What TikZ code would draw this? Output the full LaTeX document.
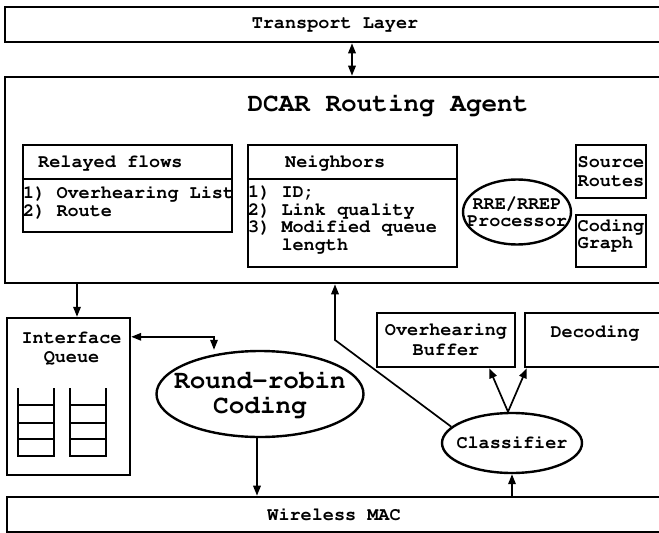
\documentclass[tikz,border=0pt]{standalone}
\usepackage[T1]{fontenc}
\usepackage{tikz}
\usetikzlibrary{shapes.geometric, arrows.meta}

\begin{document}
\begin{tikzpicture}[x=1pt, y=-1pt,
  layer/.style={rectangle, draw, line width=2.6pt, inner sep=0pt,
                font=\fontfamily{pcr}\bfseries\fontsize{18.5pt}{19pt}\selectfont},
  tbl/.style={rectangle, draw, line width=2.4pt, inner sep=0pt, align=left,
              font=\fontfamily{pcr}\bfseries\fontsize{18.5pt}{18.5pt}\selectfont},
  oval/.style={ellipse, draw, line width=2.4pt, inner ysep=0pt, inner xsep=-20pt, align=center,
               font=\fontfamily{pcr}\bfseries\fontsize{18.5pt}{17pt}\selectfont},
  txt/.style={inner sep=0pt, align=left,
              font=\fontfamily{pcr}\bfseries\fontsize{18.5pt}{17.5pt}\selectfont},
  big/.style={font=\fontfamily{pcr}\bfseries\fontsize{26pt}{25pt}\selectfont},
  arr/.style={draw, line width=1.7pt, -{Triangle[length=10pt,width=7.5pt]}},
  dbl/.style={draw, line width=1.7pt, {Triangle[length=10pt,width=7.5pt]}-{Triangle[length=10pt,width=7.5pt]}}
]
\path[use as bounding box, clip] (0,0) rectangle (659,533);

% Layers
\node[layer, minimum width=660pt, minimum height=35pt] (tl) at (335,24.5) {Transport Layer};
\node[layer, minimum width=660pt, minimum height=206pt] (dcar) at (335,180) {};
\node[big, inner sep=0pt] (dcart) at (388,105) {DCAR Routing Agent};
\node[layer, minimum width=654pt, minimum height=35pt] (wmac) at (334,514.5) {Wireless MAC};

% Inside the routing agent
\node[tbl, minimum width=209pt, minimum height=87pt] (relay) at (127.5,188.5) {};
\node[txt, anchor=west] (relayh) at (38,163) {Relayed flows};
\draw[line width=2.4pt] ([yshift=-35pt]relay.north west) -- ([yshift=-35pt]relay.north east);
\node[txt, anchor=north west] (relayl) at (23,186) {1) Overhearing List\\2) Route};

\node[tbl, minimum width=209pt, minimum height=122pt] (nb) at (352.5,206) {};
\node[txt, anchor=west] (nbh) at (285,163) {Neighbors};
\draw[line width=2.4pt] ([yshift=-35pt]nb.north west) -- ([yshift=-35pt]nb.north east);
\node[txt, anchor=north west] (nbl) at (248,186)
  {1) ID;\\2) Link quality\\3) Modified queue\\\hphantom{3)~}length};

\node[oval, minimum width=108pt, minimum height=65pt] (rre) at (517,212) {RRE/RREP\\Processor};
\node[tbl, minimum width=70pt, minimum height=53pt] (src) at (611,171.5) {Source\\Routes};
\node[tbl, minimum width=70pt, minimum height=52pt] (cg) at (611,241) {};
\node[txt, font=\fontfamily{pcr}\bfseries\fontsize{18.5pt}{17.5pt}\selectfont] (cgt) at (611,235) {Coding\\Graph};

% Below the routing agent
\node[tbl, minimum width=123pt, minimum height=157pt] (iq) at (68.5,396.5) {};
\node[txt, align=center, font=\fontfamily{pcr}\bfseries\fontsize{18.5pt}{19pt}\selectfont] (iqt) at (71.5,348) {Interface\\Queue};
\foreach \x in {18,70} {
  \draw[line width=2.4pt] (\x,388) -- (\x,457) (\x+36,388) -- (\x+36,457);
  \foreach \y in {405,423,439,456}
    \draw[line width=2.4pt] (\x,\y) -- (\x+36,\y);
}

\node[oval, big, minimum width=207pt, minimum height=86pt] (rr) at (260,394) {Round-robin\\Coding};
\node[tbl, align=center, minimum width=138pt, minimum height=54pt,
      font=\fontfamily{pcr}\bfseries\fontsize{18.5pt}{20pt}\selectfont] (ob) at (446,340) {Overhearing\\Buffer};
\node[tbl, minimum width=140pt, text height=24pt, text depth=30pt] (dec) at (595,340) {Decoding};
\node[oval, minimum width=140pt, minimum height=60pt] (cls) at (512,443) {Classifier};

% Arrows
\coordinate (ta) at ([xshift=17pt]tl.south);
\draw[dbl] (ta) -- (ta |- dcar.north);
\coordinate (qa) at ([xshift=8.5pt]iq.north);
\draw[arr] (qa |- dcar.south) -- (qa);
\draw[dbl] ([yshift=-20pt]iq.north east) -| ([xshift=-46pt]rr.north);
\coordinate (ra) at ([xshift=-3pt]rr.south);
\draw[arr] (ra) -- (ra |- wmac.north);
\draw[arr] (cls.south |- wmac.north) -- (cls.south);
\draw[arr] ([xshift=-4pt]cls.north) -- ([xshift=-27pt]ob.south east);
\draw[arr] ([xshift=-4pt]cls.north) -- ([xshift=3pt]dec.south west);
\coordinate (bend) at (335,340);
\draw[arr] (cls.165) -- (bend) -- (bend |- dcar.south);

\end{tikzpicture}
\end{document}
